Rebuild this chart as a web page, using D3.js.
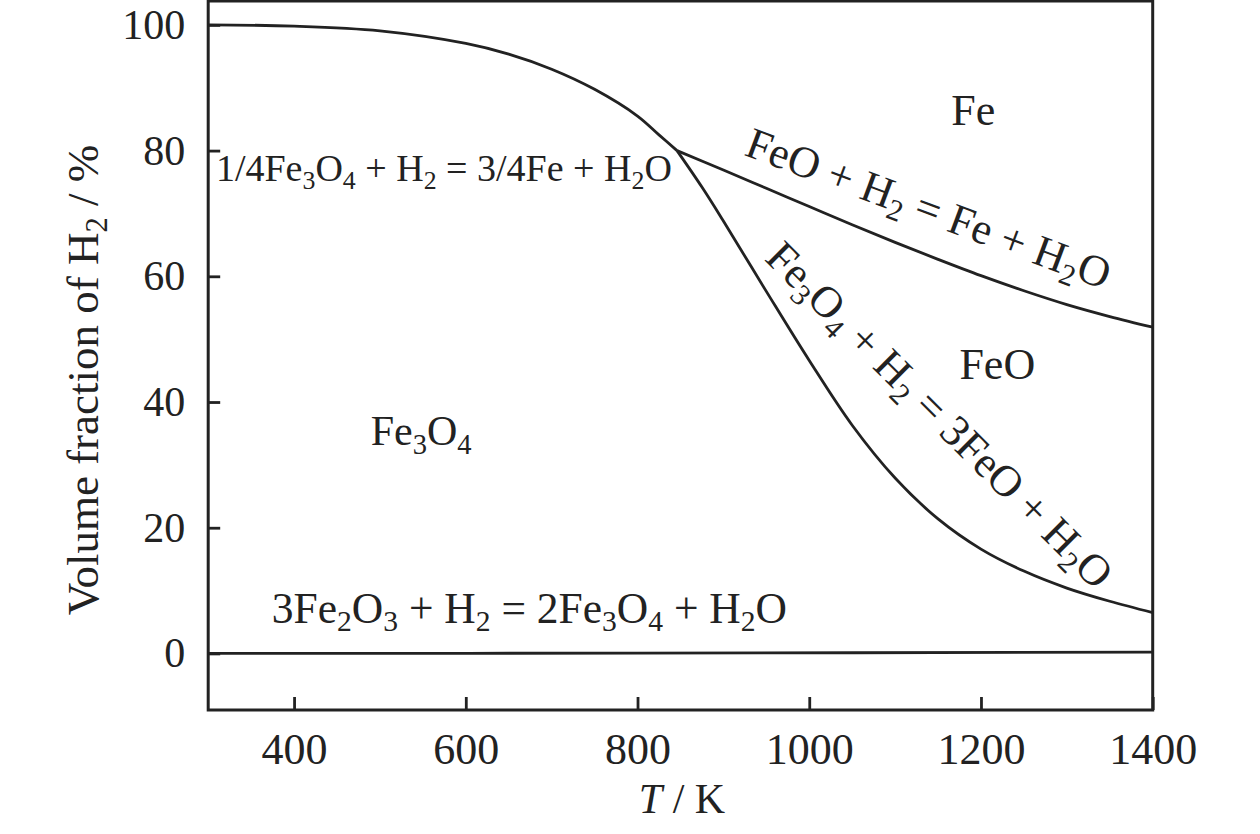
<!DOCTYPE html>
<html>
<head>
<meta charset="utf-8">
<script src="https://cdn.jsdelivr.net/npm/d3@7"></script>
<style>
  body { margin: 0; background: #fff; }
  svg text { font-family: "Liberation Serif", "Times New Roman", serif; fill: #222; }
</style>
</head>
<body>
<svg id="chart" width="1260" height="834"></svg>
<script>
// phase diagram data (T in K, H2 volume fraction in %)

const xTicks = [400, 600, 800, 1000, 1200, 1400];
const yTicks = [0, 20, 40, 60, 80, 100];

// 1/4Fe3O4 + H2 = 3/4Fe + H2O
const tempFe3O4Fe = [300, 400, 500, 600, 650, 700, 750, 800, 825, 846];
const h2Fe3O4Fe   = [100, 99.8, 99.05, 97.05, 95.35, 92.95, 89.75, 85.5, 82.5, 80];

// FeO + H2 = Fe + H2O
const tempFeOFe = [846, 900, 950, 1000, 1050, 1100, 1150, 1200, 1250, 1300, 1350, 1400];
const h2FeOFe   = [80, 76.9, 74.0, 71.1, 68.2, 65.4, 62.7, 60.1, 57.7, 55.5, 53.6, 51.9];

// Fe3O4 + H2 = 3FeO + H2O
const tempFe3O4FeO = [846, 875, 900, 950, 1000, 1050, 1100, 1150, 1200, 1250, 1300, 1350, 1400];
const h2Fe3O4FeO   = [80, 74.2, 68.8, 57.6, 46.6, 36.3, 27.9, 21.4, 16.6, 13.1, 10.4, 8.3, 6.5];

// 3Fe2O3 + H2 = 2Fe3O4 + H2O
const tempFe2O3 = [300, 800, 1400];
const h2Fe2O3   = [0, 0.05, 0.2];

// text in the plot: "_n" marks a subscript
const labelText  = ["Fe", "FeO", "Fe_3O_4", "1/4Fe_3O_4 + H_2 = 3/4Fe + H_2O",
                    "3Fe_2O_3 + H_2 = 2Fe_3O_4 + H_2O", "FeO + H_2 = Fe + H_2O",
                    "Fe_3O_4 + H_2 = 3FeO + H_2O"];
const labelT     = [1191, 1219, 548, 309, 374, 1133, 1140];
const labelH2    = [84, 43.6, 33.1, 75.1, 4.9, 68.6, 36.3];
const labelAngle = [0, 0, 0, 0, 0, 20.5, 45];
const labelSize  = [44, 44, 42, 38, 43.5, 44, 44];
const labelAnchor = ["middle", "middle", "middle", "start", "start", "middle", "middle"];

const svg = d3.select("#chart");
const ink = "#222";

const x = d3.scaleLinear().domain([300, 1400]).range([208.2, 1152.7]);
const y = d3.scaleLinear().domain([-9, 103.8]).range([710, 1]);

// write a formula with subscripts as tspans
function chem(textSel, str, size) {
  const parts = str.split(/(_\d)/);
  let down = false;
  parts.forEach(p => {
    if (!p) return;
    if (p[0] === "_") {
      textSel.append("tspan")
        .attr("font-size", size * 0.68)
        .attr("dy", down ? 0 : size * 0.2)
        .text(p.slice(1));
      down = true;
    } else {
      textSel.append("tspan")
        .attr("dy", down ? -size * 0.2 : 0)
        .text(p);
      down = false;
    }
  });
}

// axes, ticks pointing inwards
const xAxis = svg.append("g")
  .attr("transform", `translate(0,${y(-9)})`)
  .call(d3.axisBottom(x).tickValues(xTicks).tickFormat(d3.format("d"))
    .tickSizeInner(-13).tickSizeOuter(0).tickPadding(23));

const yAxis = svg.append("g")
  .attr("transform", `translate(${x(300)},0)`)
  .call(d3.axisLeft(y).tickValues(yTicks).tickFormat(d3.format("d"))
    .tickSizeInner(-12).tickSizeOuter(0).tickPadding(23));

[xAxis, yAxis].forEach(a => {
  a.select(".domain").remove();
  a.selectAll("line").attr("stroke", ink).attr("stroke-width", 2.8);
  a.selectAll("text").attr("fill", ink)
    .style("font-family", "'Liberation Serif', serif");
});
xAxis.selectAll("text").attr("font-size", 44);
yAxis.selectAll("text").attr("font-size", 42);

// frame
svg.append("rect")
  .attr("x", x(300)).attr("y", y(103.8))
  .attr("width", x(1400) - x(300)).attr("height", y(-9) - y(103.8))
  .attr("fill", "none").attr("stroke", ink).attr("stroke-width", 3);

// equilibrium curves
const line = d3.line()
  .curve(d3.curveCatmullRom.alpha(0.5))
  .x(d => x(d[0]))
  .y(d => y(d[1]));

const curves = [
  d3.zip(tempFe3O4Fe, h2Fe3O4Fe),
  d3.zip(tempFeOFe, h2FeOFe),
  d3.zip(tempFe3O4FeO, h2Fe3O4FeO),
  d3.zip(tempFe2O3, h2Fe2O3)
];

svg.append("g")
  .selectAll("path")
  .data(curves)
  .enter()
  .append("path")
  .attr("d", line)
  .attr("fill", "none")
  .attr("stroke", ink)
  .attr("stroke-width", 2.8)
  .attr("stroke-linejoin", "round");

// labels
labelText.forEach((s, i) => {
  const t = svg.append("text")
    .attr("font-size", labelSize[i])
    .attr("text-anchor", labelAnchor[i])
    .attr("transform", `translate(${x(labelT[i])},${y(labelH2[i])}) rotate(${labelAngle[i]})`);
  chem(t, s, labelSize[i]);
});

// axis titles
const yTitle = svg.append("text")
  .attr("font-size", 45)
  .attr("text-anchor", "middle")
  .attr("transform", `translate(98,380) rotate(-90)`);
chem(yTitle, "Volume fraction of H_2 / %", 45);

const xTitle = svg.append("text")
  .attr("font-size", 42)
  .attr("text-anchor", "middle")
  .attr("x", 682).attr("y", 813);
xTitle.append("tspan").attr("font-style", "italic").text("T");
xTitle.append("tspan").text(" / K");
</script>
</body>
</html>
